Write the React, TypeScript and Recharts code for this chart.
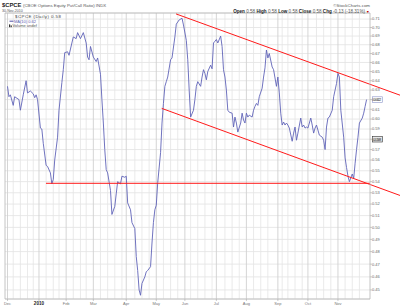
import React from 'react';
import { CartesianGrid, ComposedChart, Line, ReferenceLine, XAxis, YAxis } from 'recharts';

// trading-day index (0 = 1 Dec 2009) and the 10-day MA of $CPCE
const DAY_INDEX = [
  0, 1, 2, 4, 5, 8, 9, 11, 13, 14, 16, 18, 19, 20, 21, 23, 24, 25, 27, 28,
  30, 31, 32, 33, 35, 36, 38, 39, 40, 42, 43, 45, 46, 48, 49, 51, 53, 55, 56, 57,
  58, 60, 62, 63, 65, 66, 67, 68, 69, 70, 72, 73, 75, 76, 77, 79, 80, 82, 83, 84,
  86, 87, 89, 90, 91, 92, 93, 94, 96, 97, 98, 100, 101, 102, 103, 104, 105, 107, 108, 109,
  110, 111, 112, 114, 115, 117, 118, 120, 122, 123, 125, 126, 127, 128, 130, 131, 132, 133, 135, 136,
  137, 138, 139, 140, 142, 143, 144, 145, 146, 147, 149, 150, 151, 152, 153, 154, 155, 157, 158, 159,
  160, 161, 163, 164, 165, 166, 167, 168, 169, 171, 172, 173, 174, 175, 176, 178, 179, 180, 181, 182,
  183, 185, 186, 187, 188, 189, 190, 191, 192, 193, 194, 195, 196, 197, 199, 200, 201, 202, 203, 205,
  206, 207, 208, 209, 210, 212, 213, 214, 215, 216, 217, 218, 220, 221, 222, 223, 224, 225, 227, 228,
  229, 230, 231, 232, 233, 235, 236, 237, 238, 239, 241, 242, 243, 244, 245, 246, 248, 249, 250, 251,
];

const MA10_VALUES = [
  0.634, 0.623, 0.625, 0.614, 0.623, 0.62, 0.609, 0.625, 0.64, 0.627, 0.629, 0.626, 0.622, 0.625, 0.62, 0.591, 0.59, 0.576, 0.555, 0.554,
  0.548, 0.538, 0.542, 0.56, 0.582, 0.609, 0.638, 0.652, 0.671, 0.672, 0.668, 0.682, 0.689, 0.687, 0.694, 0.687, 0.694, 0.682, 0.666, 0.663,
  0.678, 0.666, 0.661, 0.665, 0.647, 0.62, 0.596, 0.57, 0.551, 0.548, 0.532, 0.511, 0.518, 0.529, 0.54, 0.538, 0.545, 0.544, 0.545, 0.521,
  0.515, 0.504, 0.499, 0.476, 0.465, 0.45, 0.446, 0.455, 0.46, 0.464, 0.465, 0.468, 0.487, 0.504, 0.515, 0.519, 0.539, 0.567, 0.596, 0.616,
  0.634, 0.639, 0.644, 0.663, 0.665, 0.689, 0.704, 0.709, 0.711, 0.703, 0.685, 0.663, 0.63, 0.602, 0.609, 0.62, 0.634, 0.639, 0.634, 0.644,
  0.652, 0.648, 0.641, 0.65, 0.657, 0.653, 0.682, 0.684, 0.686, 0.682, 0.69, 0.678, 0.652, 0.644, 0.63, 0.609, 0.607, 0.606, 0.592, 0.602,
  0.596, 0.587, 0.596, 0.606, 0.599, 0.596, 0.606, 0.602, 0.604, 0.602, 0.609, 0.613, 0.616, 0.614, 0.623, 0.632, 0.644, 0.654, 0.674, 0.665,
  0.67, 0.655, 0.652, 0.643, 0.634, 0.644, 0.627, 0.606, 0.594, 0.597, 0.594, 0.596, 0.594, 0.591, 0.578, 0.586, 0.592, 0.579, 0.586, 0.601,
  0.592, 0.594, 0.591, 0.592, 0.591, 0.601, 0.594, 0.586, 0.591, 0.594, 0.589, 0.584, 0.582, 0.579, 0.57, 0.592, 0.601, 0.602, 0.609, 0.623,
  0.63, 0.637, 0.648, 0.644, 0.609, 0.582, 0.562, 0.553, 0.545, 0.54, 0.547, 0.543, 0.557, 0.57, 0.582, 0.596, 0.601, 0.606, 0.613, 0.62,
];

const MONTH_TICKS = [0, 22, 41, 60, 83, 104, 124, 146, 167, 189, 210, 231];
const MONTH_LABELS = ['Dec', '2010', 'Feb', 'Mar', 'Apr', 'May', 'Jun', 'Jul', 'Aug', 'Sep', 'Oct', 'Nov'];
const WEEK_STARTS = [
  4, 9, 14, 18, 27, 32, 36, 46, 51, 55, 65, 70, 75, 80, 89, 94, 99, 109, 114,
  119, 128, 133, 138, 143, 152, 157, 162, 172, 177, 182, 192, 196, 201, 206, 216, 221,
  226, 236, 241, 246,
];
const PRICE_TICKS = [
  0.45, 0.46, 0.47, 0.48, 0.49, 0.5, 0.51, 0.52, 0.53, 0.54, 0.55, 0.56, 0.57, 0.58,
  0.59, 0.6, 0.61, 0.62, 0.63, 0.64, 0.65, 0.66, 0.67, 0.68, 0.69, 0.7, 0.71,
];

const UPPER_CHANNEL = [{ x: 117.8, y: 0.7162 }, { x: 274.4, y: 0.6246 }];
const LOWER_CHANNEL = [{ x: 107.8, y: 0.6109 }, { x: 274.4, y: 0.5276 }];
const SUPPORT_LINE = [{ x: 26.9, y: 0.5385 }, { x: 253.4, y: 0.5385 }];

const LAST_CLOSE = 0.58;
const LAST_MA = 0.62;

const X_DOMAIN = [-1.75, 253.4];
const Y_DOMAIN = [0.4432, 0.7173];

const FONT = "'Liberation Sans', Arial, sans-serif";

const chartData = DAY_INDEX.map((day, i) => ({ day, ma10: MA10_VALUES[i] }));

function MonthTick({ x, y, payload }: any) {
  const label = MONTH_LABELS[MONTH_TICKS.indexOf(payload.value)];
  const isYear = label === '2010';
  return (
    <text
      x={x}
      y={y}
      dy={3.6}
      textAnchor="middle"
      fontFamily={FONT}
      fontSize={isYear ? 4.6 : 4}
      fontWeight={isYear ? 700 : 400}
      fill={isYear ? '#222' : '#777'}
    >
      {label}
    </text>
  );
}

function PriceTick({ x, y, payload }: any) {
  return (
    <text x={x} y={y} dy={1.4} fontFamily={FONT} fontSize={4} fill="#666">
      {Number(payload.value).toFixed(2)}
    </text>
  );
}

const boxLabel = (text: string, border: string, fill: string) => (props: any) => {
  const { viewBox } = props;
  const x = viewBox.x + viewBox.width + 2.5;
  const y = viewBox.y;
  return (
    <g>
      <rect x={x} y={y - 2.8} width={10} height={5.6} fill={fill} stroke={border} strokeWidth={0.6} />
      <text x={x + 1} y={y + 1.4} fontFamily={FONT} fontSize={4} fill="#222">
        {text}
      </text>
    </g>
  );
};

function Header() {
  return (
    <svg width={400} height={308} style={{ position: 'absolute', left: 0, top: 0, pointerEvents: 'none' }}>
      <text x={2} y={7.4} fontFamily={FONT} fontSize={5.8} fontWeight={700} fill="#222">
        $CPCE
      </text>
      <text x={23} y={7.2} fontFamily={FONT} fontSize={4.3} fill="#555">
        (CBOE Options Equity Put/Call Ratio) INDX
      </text>
      <text x={2} y={12.4} fontFamily={FONT} fontSize={3.6} fill="#555">
        30-Nov-2010
      </text>
      <text x={370} y={7.2} textAnchor="end" fontFamily={FONT} fontSize={4.4} fill="#555">
        ©StockCharts.com
      </text>
      <text x={365} y={12.8} textAnchor="end" fontFamily={FONT} fontSize={4.6} fill="#555">
        <tspan fontWeight={700} fill="#222">Open</tspan> 0.58 <tspan fontWeight={700} fill="#222">High</tspan> 0.58{' '}
        <tspan fontWeight={700} fill="#222">Low</tspan> 0.58 <tspan fontWeight={700} fill="#222">Close</tspan> 0.58{' '}
        <tspan fontWeight={700} fill="#222">Chg</tspan> -0.13 (-18.31%)
      </text>
      <text x={366} y={12.8} fontFamily={FONT} fontSize={3.6} fill="#c00000">
        ▼
      </text>
      <text x={15} y={18.2} fontFamily={FONT} fontSize={4.4} letterSpacing={0.45} fill="#444">
        $CPCE (Daily) 0.58
      </text>
      <line x1={9.5} x2={13.5} y1={21.2} y2={21.2} stroke="#3a3a9a" strokeWidth={0.9} />
      <text x={14} y={22.6} fontFamily={FONT} fontSize={4} fill="#5a5ab0">
        MA(10) 0.62
      </text>
      <rect x={9} y={24.4} width={1.2} height={2.8} fill="#333" />
      <rect x={10.6} y={25.4} width={1.2} height={1.8} fill="#333" />
      <text x={12.4} y={27.2} fontFamily={FONT} fontSize={4} fill="#555">
        Volume undef
      </text>
    </svg>
  );
}

export default function App() {
  return (
    <div style={{ position: 'absolute', left: 0, top: 0, width: 400, height: 308, background: '#fff' }}>
      <ComposedChart width={400} height={308} data={chartData} margin={{ top: 13, right: 0, bottom: 0, left: 5 }}>
        <CartesianGrid vertical={false} stroke="#e2e2e2" strokeWidth={0.8} />
        {WEEK_STARTS.map((d) => (
          <ReferenceLine key={`w${d}`} x={d} stroke="#e4e4e4" strokeWidth={0.8} />
        ))}
        {MONTH_TICKS.map((d) => (
          <ReferenceLine key={`m${d}`} x={d} stroke="#d0d0d0" strokeWidth={0.9} />
        ))}
        <ReferenceLine y={Y_DOMAIN[1]} stroke="#b5b5b5" strokeWidth={0.8} />
        <ReferenceLine x={X_DOMAIN[0]} stroke="#b5b5b5" strokeWidth={0.8} />
        <XAxis
          dataKey="day"
          type="number"
          domain={X_DOMAIN}
          allowDataOverflow
          ticks={MONTH_TICKS}
          interval={0}
          tick={<MonthTick />}
          tickSize={2}
          tickMargin={0}
          tickLine={{ stroke: '#aaa', strokeWidth: 0.6 }}
          axisLine={{ stroke: '#b5b5b5', strokeWidth: 0.8 }}
          height={9}
        />
        <YAxis
          orientation="right"
          type="number"
          scale="log"
          domain={Y_DOMAIN}
          allowDataOverflow
          ticks={PRICE_TICKS}
          interval={0}
          tick={<PriceTick />}
          tickSize={2}
          tickMargin={0}
          tickLine={{ stroke: '#aaa', strokeWidth: 0.6 }}
          axisLine={{ stroke: '#b5b5b5', strokeWidth: 0.8 }}
          width={30}
        />
        <Line
          type="linear"
          dataKey="ma10"
          stroke="#6063b8"
          strokeWidth={0.9}
          dot={false}
          isAnimationActive={false}
        />
        <ReferenceLine segment={SUPPORT_LINE} stroke="#ff1a1a" strokeWidth={1} ifOverflow="visible" />
        <ReferenceLine segment={UPPER_CHANNEL} stroke="#ff1a1a" strokeWidth={1} ifOverflow="visible" />
        <ReferenceLine segment={LOWER_CHANNEL} stroke="#ff1a1a" strokeWidth={1} ifOverflow="visible" />
        <ReferenceLine
          y={LAST_MA}
          stroke="none"
          ifOverflow="visible"
          label={boxLabel(LAST_MA.toFixed(2), '#8c95c8', '#ffffff')}
        />
        <ReferenceLine
          y={LAST_CLOSE}
          stroke="none"
          ifOverflow="visible"
          label={boxLabel(LAST_CLOSE.toFixed(2), '#333333', '#e8e8e8')}
        />
      </ComposedChart>
      <Header />
    </div>
  );
}
